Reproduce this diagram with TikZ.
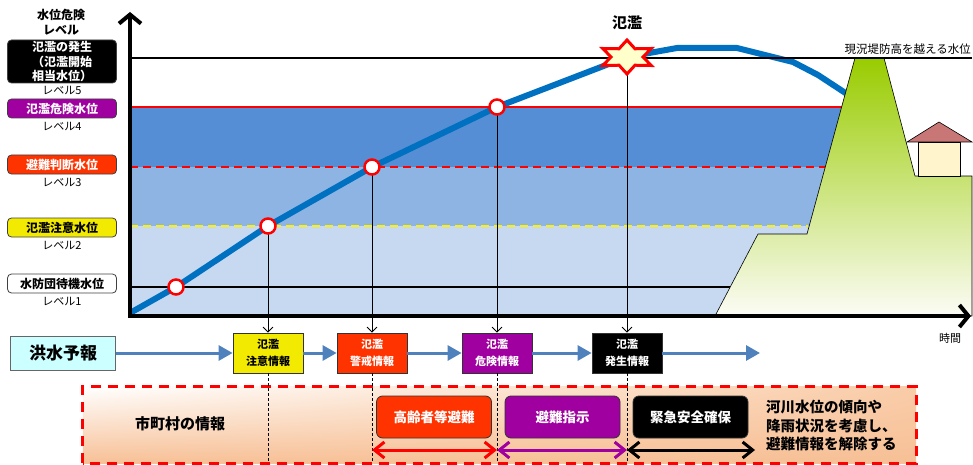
\documentclass[tikz,border=0pt]{standalone}
\usepackage{fontspec}
\setmainfont{Noto Sans CJK JP}
\usetikzlibrary{positioning,arrows.meta,shadings}

\definecolor{riverblue}{RGB}{0,112,192}
\definecolor{banddark}{RGB}{85,142,213}
\definecolor{bandmid}{RGB}{142,180,227}
\definecolor{bandlight}{RGB}{198,217,241}
\definecolor{alertred}{RGB}{255,51,0}
\definecolor{alertpurple}{RGB}{160,0,160}
\definecolor{alertyellow}{RGB}{242,234,0}
\definecolor{flowblue}{RGB}{79,129,189}
\definecolor{forecastcyan}{RGB}{204,255,255}
\definecolor{leveegreen}{RGB}{153,204,0}
\definecolor{leveepale}{RGB}{252,252,246}
\definecolor{roofred}{RGB}{200,118,118}
\definecolor{wallcream}{RGB}{255,244,204}
\definecolor{starcream}{RGB}{255,255,204}
\definecolor{peach}{RGB}{247,192,150}
\definecolor{peachmid}{RGB}{249,204,168}

\tikzstyle{levelbox} = [rectangle, rounded corners=4pt, minimum width=109pt, minimum height=19pt, inner sep=1pt, text centered, draw=black!75, line width=0.8pt, font=\fontsize{12}{14.5}\selectfont\bfseries]
\tikzstyle{leveltag} = [inner sep=0pt, font=\fontsize{11}{13}\selectfont]
\tikzstyle{infobox} = [rectangle, minimum width=70pt, minimum height=40pt, inner sep=1pt, align=center, draw=black!80, line width=0.8pt, font=\fontsize{11}{17}\selectfont\bfseries]
\tikzstyle{actionbox} = [rectangle, rounded corners=6pt, minimum width=115pt, minimum height=42pt, draw=black!80, line width=0.8pt, text=white, font=\fontsize{13.5}{16}\selectfont\bfseries]
\tikzstyle{hit} = [circle, draw=red, fill=white, line width=2.5pt, minimum size=15pt, inner sep=0pt]
\tikzstyle{flowarrow} = [-{Triangle[length=14pt,width=15pt]}, line width=3pt, flowblue]
\tikzstyle{axisline} = [{Straight Barb[length=9pt,width=22pt]}-{Straight Barb[length=9pt,width=22pt]}, line width=4pt, line join=miter]
\tikzstyle{dropline} = [-{Straight Barb[length=5pt,width=10pt]}, line width=0.8pt]
\tikzstyle{guide} = [dash pattern=on 3pt off 2pt, line width=0.8pt]
\tikzstyle{spanarrow} = [{Straight Barb[length=10pt,width=16pt]}-{Straight Barb[length=10pt,width=16pt]}, line width=3pt]

\begin{document}
\begin{tikzpicture}[x=1pt, y=-1pt]
	\useasboundingbox (0,0) rectangle (973,465);
	% Water bands and levels
	\fill[bandlight] (130,226) rectangle (860,316);
	\fill[bandmid] (130,167) rectangle (860,226);
	\fill[banddark] (130,107) rectangle (860,167);
	\draw[line width=1.5pt] (130,287) -- (860,287);
	\draw[yellow, line width=2pt, dash pattern=on 8pt off 5pt] (130,226) -- (808,226);
	\draw[red, line width=2pt, dash pattern=on 8pt off 5pt] (130,167) -- (860,167);
	\draw[red, line width=2pt] (130,107) -- (860,107);
	% River level curve
	\coordinate (origin) at (130,316);
	\coordinate (w1) at (176,287);
	\coordinate (w2) at (268,226);
	\coordinate (w3) at (372,167);
	\coordinate (w4) at (497,107);
	\coordinate (flood) at (627,57);
	\draw[riverblue, line width=6pt, line join=round] (130,313) -- (w1) -- (w2) -- (w3) -- (w4) -- (flood) -- (677,48) -- (737,48) -- (793,62) -- (818,75) -- (850,96);
	% Levee and house
	\shade[top color=leveegreen, bottom color=leveepale, draw=black, line width=0.6pt] (715,316) -- (758,234) -- (807,234) -- (855,58) -- (884,58) -- (915,176) -- (972,176) -- (972,316) -- cycle;
	\draw[fill=wallcream, line width=0.6pt] (918,142) rectangle (960,176);
	\draw[fill=roofred, line width=0.6pt] (907,142) -- (939,122) -- (972,142) -- cycle;
	\draw[line width=1.5pt] (130,58) -- (972,58);
	\node[anchor=south east, inner sep=1pt, font=\fontsize{11.5}{13}\selectfont] (crest) at (972,56) {現況堤防高を越える水位};
	% Axes
	\draw[axisline] (130,12) -- (origin) -- (971,316);
	\node[font=\fontsize{11}{13}\selectfont] (timetag) at (950,338) {時間};
	% Level labels
	\node[font=\fontsize{12}{14.5}\selectfont\bfseries, align=center] (leveltitle) at (61,22) {水位危険\\レベル};
	\node[levelbox, fill=black, text=white, minimum height=43pt, align=center] (lv5) at (62,61.5) {氾濫の発生\\（氾濫開始\\相当水位）};
	\node[leveltag, below=3pt of lv5] (tag5) {レベル5};
	\node[levelbox, fill=alertpurple, text=white] (lv4) at (62,108.5) {氾濫危険水位};
	\node[leveltag, below=4pt of lv4] (tag4) {レベル4};
	\node[levelbox, fill=alertred, text=white] (lv3) at (62,164.5) {避難判断水位};
	\node[leveltag, below=4pt of lv3] (tag3) {レベル3};
	\node[levelbox, fill=alertyellow] (lv2) at (62,227.5) {氾濫注意水位};
	\node[leveltag, below=4pt of lv2] (tag2) {レベル2};
	\node[levelbox, fill=white] (lv1) at (62,283.5) {水防団待機水位};
	\node[leveltag, below=4pt of lv1] (tag1) {レベル1};
	% Forecast flow
	\node[rectangle, draw=black!60, line width=0.8pt, fill=forecastcyan, minimum width=105pt, minimum height=34pt, font=\fontsize{17}{20}\selectfont\bfseries] (forecast) at (63,353) {洪水予報};
	\node[infobox, fill=alertyellow] (info1) at (268,353) {氾濫\\注意情報};
	\node[infobox, fill=alertred, text=white] (info2) at (372,353) {氾濫\\警戒情報};
	\node[infobox, fill=alertpurple, text=white] (info3) at (497,353) {氾濫\\危険情報};
	\node[infobox, fill=black, text=white] (info4) at (627,353) {氾濫\\発生情報};
	\coordinate (flowend) at (760,353);
	% Municipal information
	\node[rectangle, minimum width=833pt, minimum height=76pt] (cityframe) at (499.5,425) {};
	\shade[upper left=white, lower left=peach, upper right=peachmid, lower right=peach] (cityframe.south west) rectangle (cityframe.north east);
	\draw[red, line width=3pt, dash pattern=on 10pt off 7pt] (cityframe.south west) rectangle (cityframe.north east);
	\node[font=\fontsize{15}{18}\selectfont\bfseries] (citytag) at (180,424) {市町村の情報};
	\node[actionbox, fill=alertred] (elderly) at (434,417) {高齢者等避難};
	\node[actionbox, fill=alertpurple] (order) at (562.5,417) {避難指示};
	\node[actionbox, fill=black] (emergency) at (690.5,417) {緊急安全確保};
	\node[anchor=west, align=left, inner sep=0pt, font=\fontsize{14.5}{18.5}\selectfont\bfseries] (release) at (766,426) {河川水位の傾向や\\降雨状況を考慮し、\\避難情報を解除する};
	\coordinate (s1) at (372,450);
	\coordinate (s2) at (497,450);
	\coordinate (s3) at (627,450);
	\coordinate (s4) at (755,450);
	% Arrows
	\draw[flowarrow] (forecast) -- (info1);
	\draw[flowarrow] (info1) -- (info2);
	\draw[flowarrow] (info2) -- (info3);
	\draw[flowarrow] (info3) -- (info4);
	\draw[flowarrow] (info4) -- (flowend);
	\draw[dropline] (w2) -- (info1);
	\draw[dropline] (w3) -- (info2);
	\draw[dropline] (w4) -- (info3);
	\draw[dropline] (flood) -- (info4);
	\draw[guide] (info1) -- (info1 |- cityframe.south);
	\draw[guide] (info2) -- (info2 |- cityframe.south);
	\draw[guide] (info3) -- (info3 |- cityframe.south);
	\draw[guide] (info4) -- (info4 |- cityframe.south);
	\draw[spanarrow, red] (s1) -- (s2);
	\draw[spanarrow, alertpurple] (s2) -- (s3);
	\draw[spanarrow, black] (s3) -- (s4);
	% Markers on the curve
	\node[hit] (h1) at (w1) {};
	\node[hit] (h2) at (w2) {};
	\node[hit] (h3) at (w3) {};
	\node[hit] (h4) at (w4) {};
	\draw[draw=red, fill=starcream, line width=3pt, line join=miter, shift={(flood)}] (90:28 and 17)
		\foreach \a in {0,60,...,300} { -- ({\a+120}:16 and 9.5) -- ({\a+150}:28 and 17) } -- cycle;
	\node[font=\fontsize{15}{18}\selectfont\bfseries, above=24pt of flood] (floodtag) {氾濫};
\end{tikzpicture}
\end{document}
